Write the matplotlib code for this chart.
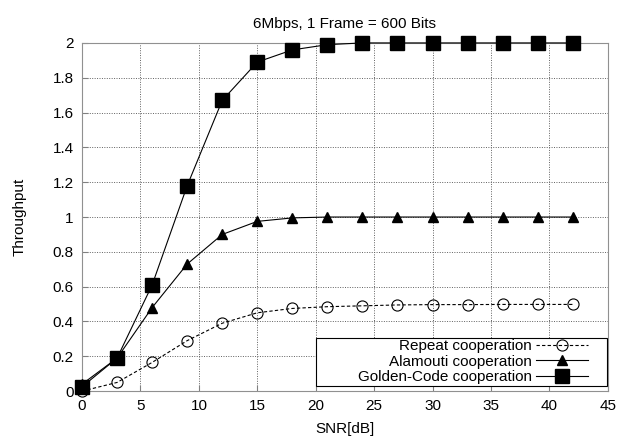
import matplotlib.pyplot as plt
import numpy as np
from matplotlib.patches import Rectangle

plt.rcParams['font.family'] = ['Liberation Sans', 'DejaVu Sans']

snr = [0, 3, 6, 9, 12, 15, 18, 21, 24, 27, 30, 33, 36, 39, 42]
repeat = [0.0, 0.05, 0.165, 0.29, 0.39, 0.45, 0.475, 0.485, 0.49, 0.495, 0.497, 0.497, 0.498, 0.498, 0.498]
alamouti = [0.04, 0.19, 0.48, 0.73, 0.90, 0.975, 0.995, 1.0, 1.0, 1.0, 1.0, 1.0, 1.0, 1.0, 1.0]
golden = [0.025, 0.19, 0.61, 1.18, 1.67, 1.89, 1.96, 1.99, 2.0, 2.0, 2.0, 2.0, 2.0, 2.0, 2.0]
ytick_labels = ['0', '0.2', '0.4', '0.6', '0.8', '1', '1.2', '1.4', '1.6', '1.8', '2']

fs = 11
fig = plt.figure(figsize=(6.17, 4.38), dpi=100)
ax = fig.add_axes([0.133, 0.107, 0.852, 0.795])

ax.plot(snr, repeat, 'k--', lw=0.8, marker='o', ms=8, mfc='none', mec='black', mew=0.8,
        label='Repeat cooperation', dashes=(3, 2), clip_on=False, zorder=3)
ax.plot(snr, alamouti, 'k-', lw=0.8, marker='^', ms=7.5, mfc='black', mec='black',
        label='Alamouti cooperation', clip_on=False, zorder=3)
ax.plot(snr, golden, 'k-', lw=0.8, marker='s', ms=10, mfc='black', mec='black',
        label='Golden-Code cooperation', clip_on=False, zorder=3)

ax.set_xlim(0, 45)
ax.set_ylim(0, 2)
ax.set_xticks(np.arange(0, 46, 5))
ax.set_yticks(np.arange(0, 2.01, 0.2))
ax.set_yticklabels(ytick_labels)
ax.tick_params(direction='in', labelsize=fs, color='#808080', length=4, pad=6)
ax.grid(True, color='#606060', ls=(0, (1, 1.5)), lw=0.7)
for s in ax.spines.values():
    s.set_color('#909090')

ax.set_xlabel('SNR[dB]', fontsize=fs, labelpad=6.5)
ax.set_ylabel('Throughput', fontsize=fs, labelpad=19)
ax.set_title('6Mbps, 1 Frame = 600 Bits', fontsize=fs, pad=11)

# legend box drawn separately so it can be wider than its contents
box = Rectangle((0.445, 0.014), 0.5537, 0.138, transform=ax.transAxes, facecolor='white',
                edgecolor='black', lw=0.8, clip_on=False, zorder=4.5)
ax.add_patch(box)

leg = ax.legend(loc='lower right', bbox_to_anchor=(0.9625, 0.02), markerfirst=False,
                fontsize=fs, frameon=False, borderpad=0, labelspacing=0.1,
                handlelength=3.4, handletextpad=0.3, borderaxespad=0)
leg.set_zorder(5)
for t in leg.get_texts():
    t.set_ha('right')
leg._legend_box.align = 'right'

fig.savefig('out.png', dpi=100)
